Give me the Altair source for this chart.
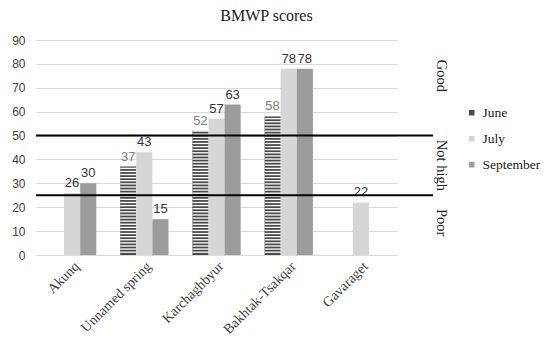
import altair as alt
import pandas as pd
import numpy as np

sites = ["Akunq", "Unnamed spring", "Karchaghbyur", "Bakhtak-Tsakqar", "Gavaraget"]
months = ["June", "July", "September"]
june = [None, 37, 52, 58, None]
july = [26, 43, 57, 78, 22]
september = [30, 15, 63, 78, None]

zone_names = ["Good", "Not high", "Poor"]
zone_label_pos = [75, 37.5, 13.5]
thresholds = [50, 25]
y_ticks = [0, 10, 20, 30, 40, 50, 60, 70, 80, 90]

rows = []
for m, vals in zip(months, [june, july, september]):
    for s, v in zip(sites, vals):
        if v is not None:
            rows.append({"site": s, "month": m, "value": v})
df = pd.DataFrame(rows)

# white gaps giving June bars their horizontal-stripe look
stripe_rows = []
for s, v in zip(sites, june):
    if v is not None:
        for y in np.arange(0.9, v - 0.3, 1.3):
            stripe_rows.append({"site": s, "month": "June", "y0": float(y), "y1": float(y) + 0.55})
stripes = pd.DataFrame(stripe_rows)

serif = "Liberation Serif"
sans = "Liberation Sans"

xscale = alt.Scale(domain=sites, paddingInner=0.33, paddingOuter=0.165)
xaxis = alt.Axis(labelAngle=-45, labelFont=serif, labelFontSize=14,
                 labelColor="#404040", ticks=False, domainColor="#d9d9d9",
                 labelPadding=4)
yscale = alt.Scale(domain=[0, 90], nice=False)
yaxis = alt.Axis(values=y_ticks, labelFont=sans, labelFontSize=12,
                 labelColor="#404040", domain=False, ticks=False,
                 gridColor="#d9d9d9", labelPadding=11)
xoff = alt.XOffset("month:N", sort=months, scale=alt.Scale(domain=months))


def X():
    return alt.X("site:N", sort=sites, title=None, scale=xscale, axis=xaxis)


bars = alt.Chart(df).mark_bar().encode(
    x=X(),
    xOffset=xoff,
    y=alt.Y("value:Q", scale=yscale, title=None, axis=yaxis),
    color=alt.Color("month:N", sort=months,
                    scale=alt.Scale(domain=months, range=["#4a4a4a", "#d6d6d6", "#9c9c9c"]),
                    legend=alt.Legend(title=None, orient="none", legendX=429, legendY=66,
                                      symbolType="square", symbolSize=30, symbolStrokeWidth=0,
                                      labelFont=serif, labelFontSize=13.5, labelColor="#202020",
                                      rowPadding=11, padding=0, labelOffset=4)),
)

stripe_layer = alt.Chart(stripes).mark_bar(color="white").encode(
    x=X(),
    xOffset=xoff,
    y=alt.Y("y0:Q", scale=yscale, title=None, axis=yaxis),
    y2="y1:Q",
)

labels = alt.Chart(df).mark_text(baseline="bottom", dy=-3, font=sans, fontSize=13).encode(
    x=X(),
    xOffset=xoff,
    y=alt.Y("value:Q", scale=yscale, title=None, axis=yaxis),
    text="value:Q",
    color=alt.condition(alt.datum.month == "June", alt.value("#808080"), alt.value("#333333")),
)

ref = alt.Chart(pd.DataFrame({"t": thresholds})).mark_rule(color="black", strokeWidth=2).encode(
    y=alt.Y("t:Q", scale=yscale, title=None, axis=yaxis),
    x=alt.value(0),
    x2=alt.value(397),
)

zones = alt.Chart(pd.DataFrame({"zone": zone_names, "pos": zone_label_pos})).mark_text(
    angle=90, font=serif, fontSize=14.5, color="#202020", align="center", baseline="middle"
).encode(
    y=alt.Y("pos:Q", scale=yscale, title=None, axis=yaxis),
    x=alt.value(405),
    text="zone:N",
)

chart = alt.layer(bars, stripe_layer, labels, ref, zones).properties(
    width=361, height=215,
    padding={"left": 3, "top": 0, "right": 0, "bottom": 0},
    title=alt.TitleParams("BMWP scores", font=serif, fontSize=16, fontWeight="normal",
                          color="#202020", anchor="middle", dx=50, offset=10),
).configure_view(stroke=None)

chart.save("out.html", embed_options={"renderer": "svg", "actions": False})
